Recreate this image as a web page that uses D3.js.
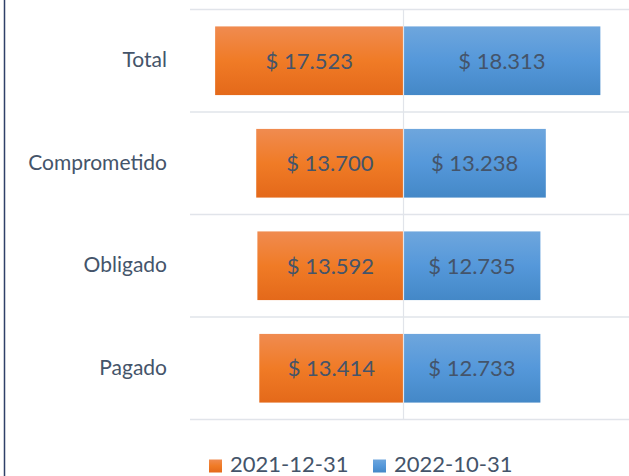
<!DOCTYPE html>
<html>
<head>
<meta charset="utf-8">
<script src="https://cdn.jsdelivr.net/npm/d3@7"></script>
<style>
  html, body { margin: 0; padding: 0; background: #fff; }
  svg { display: block; font-family: Lato, "Open Sans", sans-serif; }
</style>
</head>
<body>
<svg id="chart" width="629" height="476"></svg>
<script>
var categories = ['Total', 'Comprometido', 'Obligado', 'Pagado'];
var seriesNames = ['2021-12-31', '2022-10-31'];
var values2021 = [17.523, 13.700, 13.592, 13.414];
var values2022 = [18.313, 13.238, 12.735, 12.733];

var textColor = '#44546a';
var gridColor = '#e1e4ea';

var svg = d3.select('#chart');

// x runs both ways from the middle: 2021 to the left, 2022 to the right
var x = d3.scaleLinear().domain([-20, 20]).range([188.5, 618.5]);
var y = d3.scaleBand().domain(categories).range([9.5, 419.5]).paddingInner(0.33).paddingOuter(0.165);

// gradients like the office bar fill
var defs = svg.append('defs');
function gradient(id, stops) {
  var g = defs.append('linearGradient').attr('id', id)
    .attr('x1', 0).attr('y1', 0).attr('x2', 0).attr('y2', 1);
  stops.forEach(function(s, i) {
    g.append('stop').attr('offset', (i / (stops.length - 1) * 100) + '%').attr('stop-color', s);
  });
}
gradient('gOrange', ['#f08b50', '#f07b26', '#e4691a']);
gradient('gBlue', ['#6ea6dd', '#5598da', '#4488c7']);

// left frame line
svg.append('line')
  .attr('x1', 4.5).attr('x2', 4.5).attr('y1', 0).attr('y2', 476)
  .attr('stroke', '#2f4068').attr('stroke-width', 1.5);

// horizontal gridlines between categories
var step = y.step();
var bounds = d3.range(categories.length + 1).map(function(i) { return y.range()[0] + i * step; });
svg.append('g').selectAll('line')
  .data(bounds)
  .enter()
  .append('line')
  .attr('x1', 190).attr('x2', 629)
  .attr('y1', function(d) { return d; })
  .attr('y2', function(d) { return d; })
  .attr('stroke', gridColor).attr('stroke-width', 1.5);

var rows = categories.map(function(c, i) {
  return { cat: c, a: values2021[i], b: values2022[i] };
});

// orange bars going left
svg.append('g').selectAll('rect')
  .data(rows)
  .enter()
  .append('rect')
  .attr('x', function(d) { return x(-d.a); })
  .attr('y', function(d) { return y(d.cat); })
  .attr('width', function(d) { return x(0) - x(-d.a); })
  .attr('height', y.bandwidth())
  .attr('fill', 'url(#gOrange)');

// blue bars going right
svg.append('g').selectAll('rect')
  .data(rows)
  .enter()
  .append('rect')
  .attr('x', x(0))
  .attr('y', function(d) { return y(d.cat); })
  .attr('width', function(d) { return x(d.b) - x(0); })
  .attr('height', y.bandwidth())
  .attr('fill', 'url(#gBlue)');

// zero line
svg.append('line')
  .attr('x1', x(0)).attr('x2', x(0))
  .attr('y1', y.range()[0]).attr('y2', y.range()[1])
  .attr('stroke', gridColor).attr('stroke-width', 1.2);

function money(v) { return '$ ' + v.toFixed(3); }

// value labels
var labels = svg.append('g')
  .attr('fill', textColor)
  .attr('font-size', 22)
  .attr('text-anchor', 'middle');

labels.selectAll('text.a')
  .data(rows)
  .enter()
  .append('text')
  .attr('class', 'a')
  .attr('x', function(d) { return (x(-d.a) + x(0)) / 2; })
  .attr('y', function(d) { return y(d.cat) + y.bandwidth() / 2; })
  .attr('dy', '0.36em')
  .text(function(d) { return money(d.a); });

labels.selectAll('text.b')
  .data(rows)
  .enter()
  .append('text')
  .attr('class', 'b')
  .attr('x', function(d) { return (x(d.b) + x(0)) / 2; })
  .attr('y', function(d) { return y(d.cat) + y.bandwidth() / 2; })
  .attr('dy', '0.36em')
  .text(function(d) { return money(d.b); });

// category axis on the left, no line or ticks
var yAxis = svg.append('g')
  .attr('transform', 'translate(176,0)')
  .call(d3.axisLeft(y).tickSize(0).tickPadding(9));
yAxis.select('.domain').remove();
yAxis.selectAll('text')
  .attr('fill', textColor)
  .attr('font-size', 21)
  .attr('font-family', 'Lato, "Open Sans", sans-serif');

// legend
var legend = svg.append('g');
var legendX = [209, 373];
var legendColors = ['url(#gOrange)', 'url(#gBlue)'];
seriesNames.forEach(function(name, i) {
  var g = legend.append('g').attr('transform', 'translate(' + legendX[i] + ',459.5)');
  g.append('rect').attr('width', 13).attr('height', 13).attr('fill', legendColors[i]);
  g.append('text')
    .attr('x', 21).attr('y', 12.5)
    .attr('fill', textColor)
    .attr('font-size', 22)
    .text(name);
});
</script>
</body>
</html>
